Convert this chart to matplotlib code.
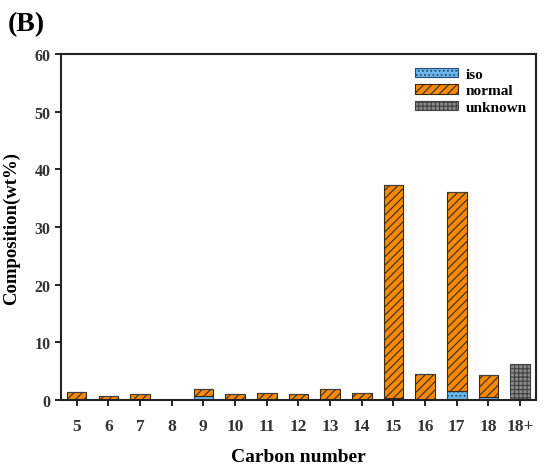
import numpy as np
import matplotlib.pyplot as plt
import matplotlib as mpl

mpl.rcParams['hatch.linewidth'] = 0.8
plt.rcParams['font.family'] = ['Liberation Serif', 'DejaVu Serif']

carbon = ['5', '6', '7', '8', '9', '10', '11', '12', '13', '14', '15', '16', '17', '18', '18+']
iso = [0.2, 0.0, 0.0, 0.0, 0.8, 0.0, 0.0, 0.0, 0.0, 0.0, 0.3, 0.0, 1.5, 0.5, 0.0]
normal = [1.2, 0.7, 1.0, 0.0, 1.2, 1.0, 1.2, 1.0, 2.0, 1.2, 37.0, 4.6, 34.6, 3.9, 0.0]
unknown = [0, 0, 0, 0, 0, 0, 0, 0, 0, 0, 0, 0, 0, 0, 6.2]

fig = plt.figure(figsize=(5.48, 4.77), dpi=100)
ax = fig.add_axes([0.111, 0.159, 0.867, 0.726])

x = np.arange(len(carbon))
w = 0.62
iso = np.array(iso)
normal = np.array(normal)
unknown = np.array(unknown)

ax.bar(x, iso, w, color='#6ab8ec', edgecolor='#2a4a70', hatch='....', linewidth=0.8, label='iso')
ax.bar(x, normal, w, bottom=iso, color='#f58a0a', edgecolor='#3a2a10', hatch='////', linewidth=0.8, label='normal')
ax.bar(x, unknown, w, bottom=iso + normal, color='#8a8a8a', edgecolor='#404040', hatch='++++', linewidth=0.8, label='unknown')

ax.set_xlim(-0.5, len(carbon) - 0.5)
ax.set_ylim(0, 60)
ax.set_yticks(np.arange(0, 61, 10))
ax.set_xticks(x)
ax.set_xticklabels(carbon)
ax.tick_params(direction='out', length=4, width=1.2, labelsize=12.5, top=False, right=False)
ax.tick_params(axis='x', pad=9)
ax.tick_params(axis='y', labelsize=11.5)
for lab in ax.get_xticklabels() + ax.get_yticklabels():
    lab.set_fontweight('bold')
    lab.set_color('#333333')
for s in ax.spines.values():
    s.set_linewidth(1.5)
    s.set_color('#222222')

ax.set_xlabel('Carbon number', fontsize=14, fontweight='bold', labelpad=10)
ax.set_ylabel('Composition(wt%)', fontsize=13.5, fontweight='bold', labelpad=10)

leg = ax.legend(loc='upper right', frameon=False, fontsize=11, handlelength=2.8, handleheight=0.55,
                labelspacing=0.25, handletextpad=0.5, bbox_to_anchor=(1.01, 1.0))
for t in leg.get_texts():
    t.set_fontweight('bold')

fig.text(0.015, 0.935, '(B)', fontsize=20, fontweight='bold')

fig.savefig('out.png', dpi=100)
